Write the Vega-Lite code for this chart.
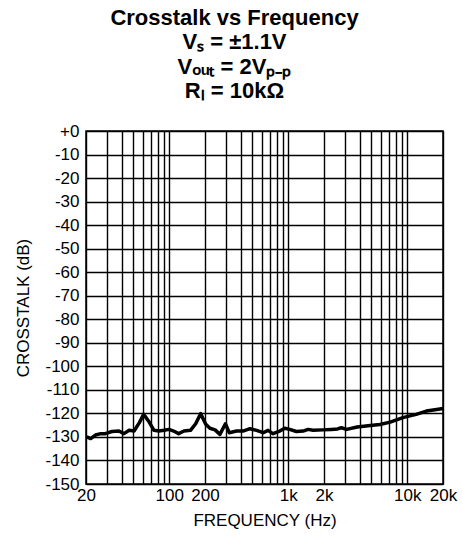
{
  "$schema": "https://vega.github.io/schema/vega-lite/v6.json",
  "autosize": {"type": "none"},
  "padding": {"left": 86, "top": 131, "right": 20, "bottom": 57},
  "width": 357,
  "height": 353,
  "title": {
    "text": ["Crosstalk vs Frequency", "V\u209b = ±1.1V", "V\u2092\u1d64\u209c = 2V\u209a\u208b\u209a", "R\u2097 = 10kΩ"],
    "anchor": "middle",
    "dx": -30,
    "offset": 19,
    "font": "Liberation Sans",
    "fontSize": 22,
    "fontWeight": "bold",
    "lineHeight": 24.5,
    "color": "#000000"
  },
  "data": {
    "values": [
      {"freq": 20.3, "db": -130},
      {"freq": 21.9, "db": -130.7},
      {"freq": 24, "db": -129.2},
      {"freq": 26.6, "db": -128.6},
      {"freq": 29.1, "db": -128.6},
      {"freq": 33, "db": -127.7},
      {"freq": 37.8, "db": -127.5},
      {"freq": 41.7, "db": -128.6},
      {"freq": 46.1, "db": -127.2},
      {"freq": 50.7, "db": -127.5},
      {"freq": 56.2, "db": -123.9},
      {"freq": 61, "db": -120.4},
      {"freq": 67, "db": -123.2},
      {"freq": 74.5, "db": -127.2},
      {"freq": 82, "db": -127.5},
      {"freq": 90.4, "db": -127.2},
      {"freq": 99.7, "db": -126.8},
      {"freq": 109, "db": -127.5},
      {"freq": 120, "db": -128.6},
      {"freq": 133, "db": -127.5},
      {"freq": 151, "db": -127.2},
      {"freq": 167, "db": -124.4},
      {"freq": 184, "db": -120.1},
      {"freq": 203, "db": -124.6},
      {"freq": 220, "db": -126.3},
      {"freq": 243, "db": -127},
      {"freq": 267, "db": -128.9},
      {"freq": 297, "db": -124.4},
      {"freq": 320, "db": -128.2},
      {"freq": 369, "db": -127.5},
      {"freq": 417, "db": -127.5},
      {"freq": 478, "db": -126.5},
      {"freq": 543, "db": -127.2},
      {"freq": 617, "db": -128.2},
      {"freq": 677, "db": -127.2},
      {"freq": 745, "db": -128.6},
      {"freq": 850, "db": -127.5},
      {"freq": 935, "db": -126.3},
      {"freq": 1030, "db": -126.8},
      {"freq": 1172, "db": -127.7},
      {"freq": 1335, "db": -127.5},
      {"freq": 1470, "db": -126.8},
      {"freq": 1620, "db": -127.2},
      {"freq": 1960, "db": -127},
      {"freq": 2300, "db": -126.8},
      {"freq": 2600, "db": -126.6},
      {"freq": 2800, "db": -126.1},
      {"freq": 3100, "db": -126.8},
      {"freq": 3800, "db": -125.8},
      {"freq": 4900, "db": -125.1},
      {"freq": 5900, "db": -124.7},
      {"freq": 7200, "db": -123.7},
      {"freq": 9200, "db": -121.8},
      {"freq": 11900, "db": -120.4},
      {"freq": 14500, "db": -119},
      {"freq": 17700, "db": -118.3},
      {"freq": 20000, "db": -117.9}
    ]
  },
  "mark": {"type": "line", "color": "#000000", "strokeWidth": 3.5, "strokeJoin": "round"},
  "encoding": {
    "x": {
      "field": "freq",
      "type": "quantitative",
      "scale": {"type": "log", "domain": [20, 20000], "nice": false},
      "title": "FREQUENCY (Hz)",
      "axis": {
        "values": [20, 30, 40, 50, 60, 70, 80, 90, 100, 200, 300, 400, 500, 600, 700, 800, 900, 1000, 2000, 3000, 4000, 5000, 6000, 7000, 8000, 9000, 10000, 20000],
        "labelExpr": "indexof([20, 100, 200, 1000, 2000, 10000, 20000], datum.value) < 0 ? '' : (datum.value >= 1000 ? (datum.value / 1000) + 'k' : '' + datum.value)",
        "labelOverlap": false,
        "labelPadding": 3,
        "titlePadding": 9
      }
    },
    "y": {
      "field": "db",
      "type": "quantitative",
      "scale": {"domain": [-150, 0], "nice": false},
      "title": "CROSSTALK (dB)",
      "axis": {
        "values": [0, -10, -20, -30, -40, -50, -60, -70, -80, -90, -100, -110, -120, -130, -140, -150],
        "labelExpr": "datum.value == 0 ? '+0' : '' + datum.value",
        "labelOverlap": false,
        "labelPadding": 7,
        "titlePadding": 12
      }
    }
  },
  "config": {
    "font": "Liberation Sans",
    "view": {"stroke": "#000000", "strokeWidth": 1.5},
    "axis": {
      "grid": true,
      "gridColor": "#000000",
      "gridOpacity": 1,
      "gridWidth": 1.4,
      "domain": false,
      "ticks": false,
      "labelFlush": false,
      "labelBound": false,
      "labelFont": "Liberation Sans",
      "labelFontSize": 17,
      "labelColor": "#000000",
      "titleFont": "Liberation Sans",
      "titleFontSize": 17,
      "titleFontWeight": "normal",
      "titleColor": "#000000"
    }
  }
}
